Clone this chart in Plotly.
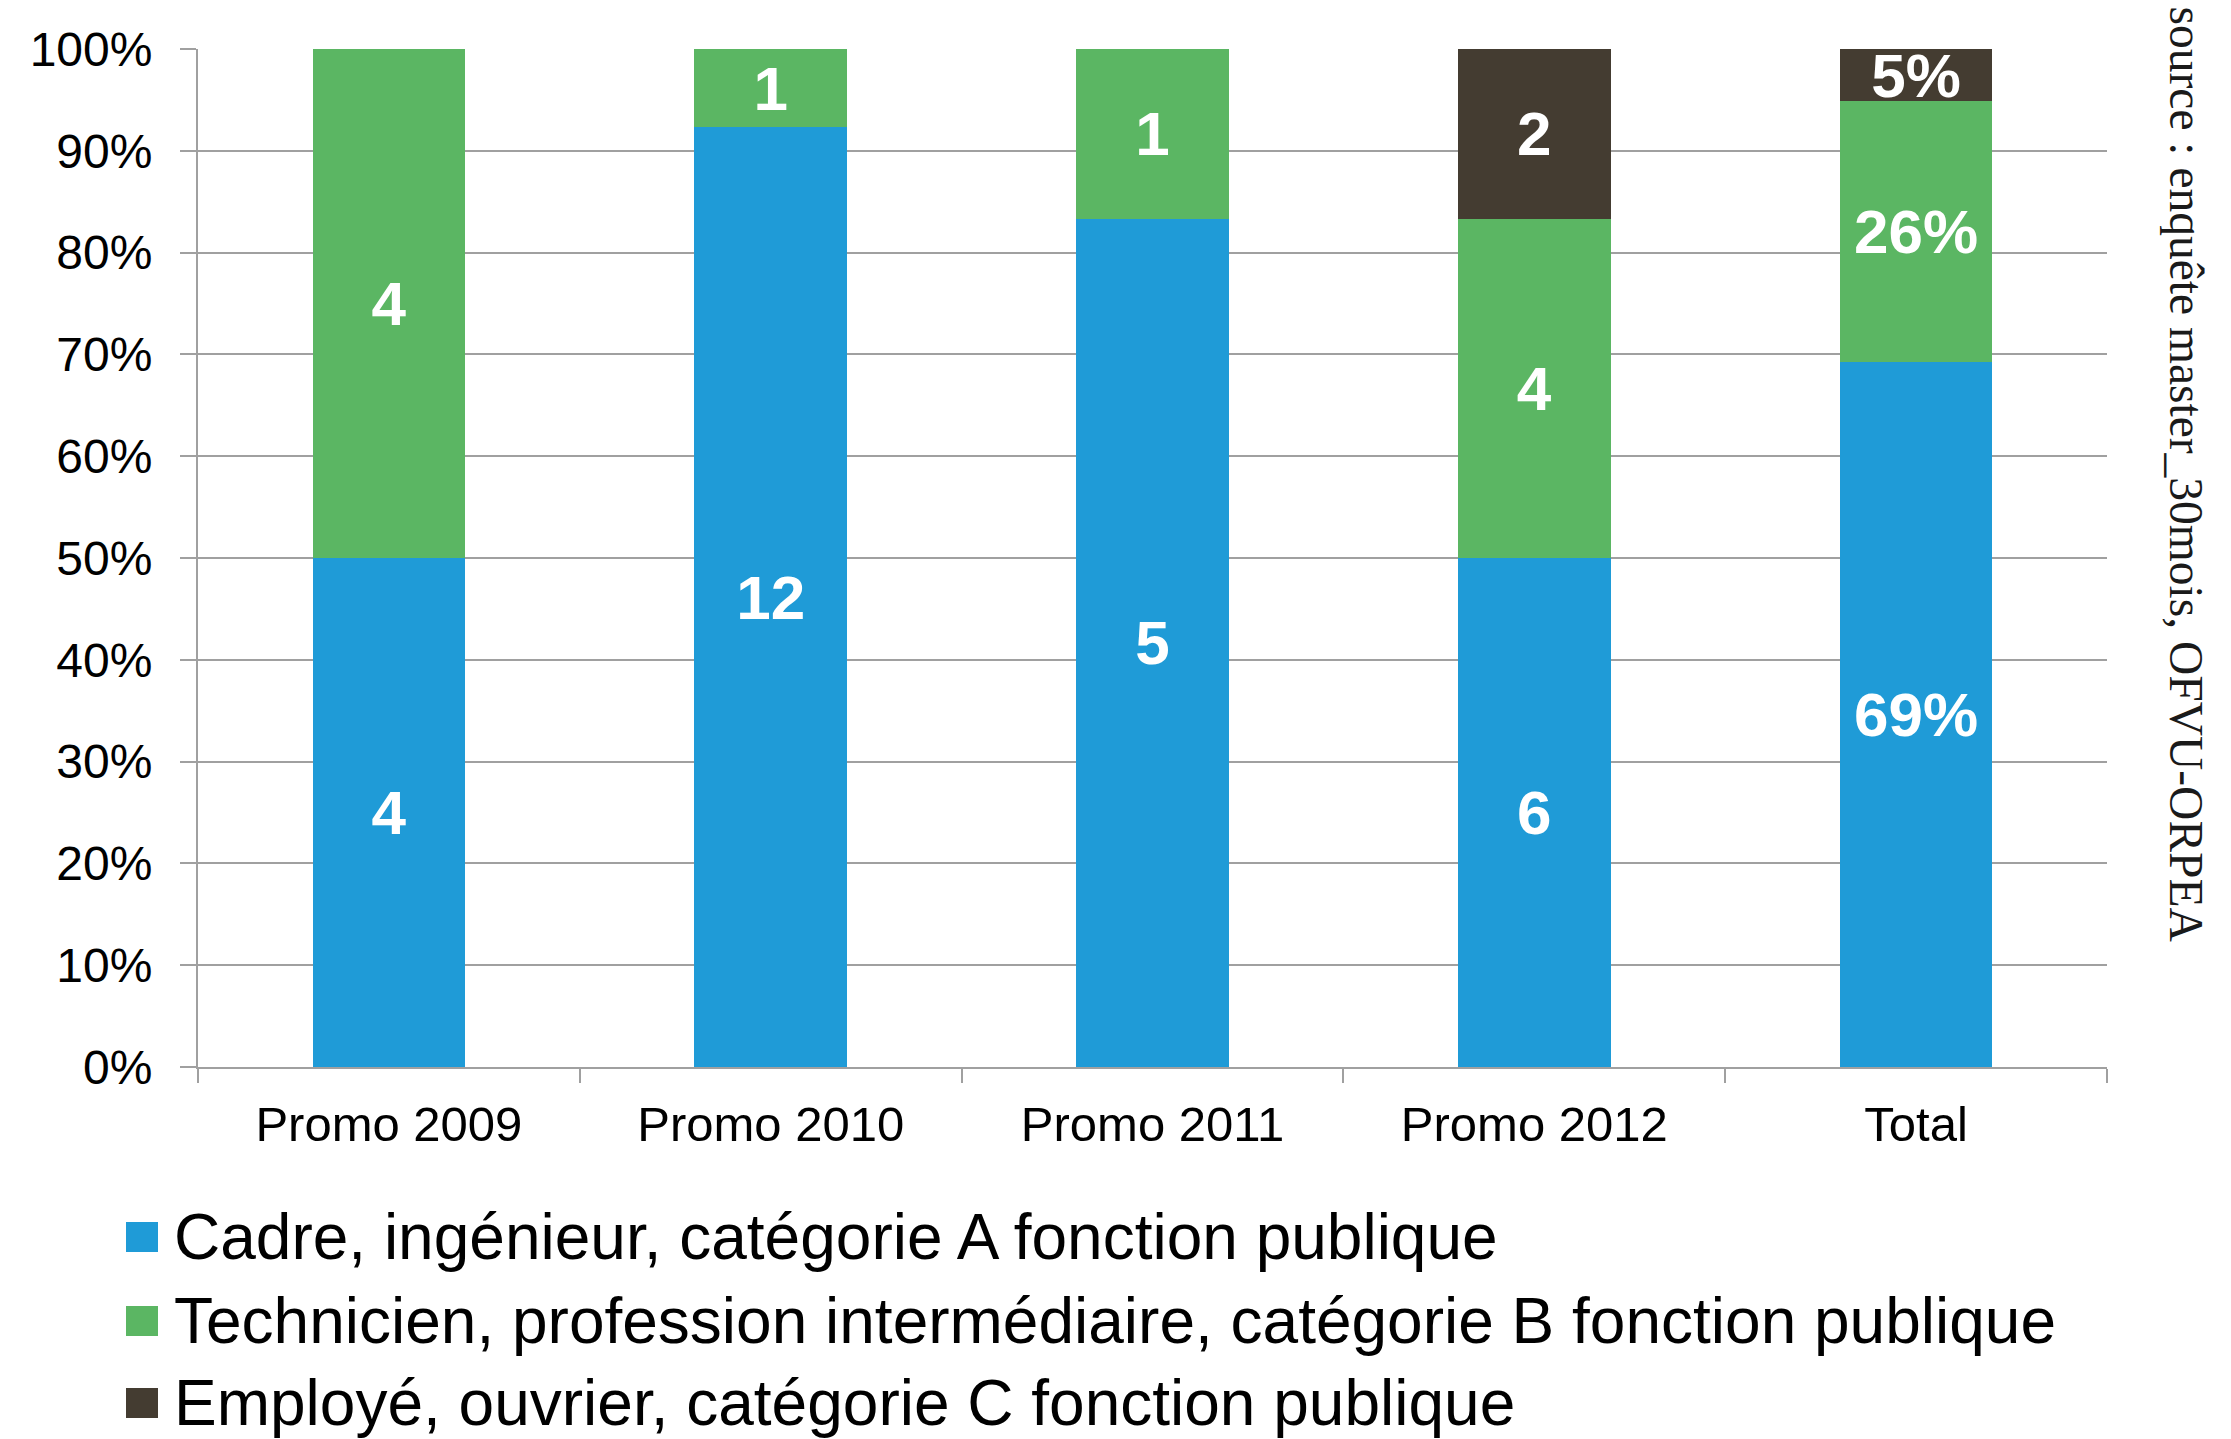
import plotly.graph_objects as go

categories = ["Promo 2009", "Promo 2010", "Promo 2011", "Promo 2012", "Total"]
promo_names = categories[:4]
series_names = [
    "Cadre, ingénieur, catégorie A fonction publique",
    "Technicien, profession intermédiaire, catégorie B fonction publique",
    "Employé, ouvrier, catégorie C fonction publique",
]
# counts per promo
cadre_counts = [4, 12, 5, 6]
tech_counts = [4, 1, 1, 4]
employe_counts = [0, 0, 0, 2]
colors = ["#1F9BD7", "#5BB663", "#443C31"]
y_ticks = [0, 10, 20, 30, 40, 50, 60, 70, 80, 90, 100]
source_text = "source : enquête master_30mois, OFVU-ORPEA"

W, H = 2231, 1439
L, R, T, B = 198, 2107, 49, 1067
PW, PH = R - L, B - T


def px(x):
    return (x - L) / PW


def py(y):
    return (B - y) / PH


all_counts = [cadre_counts, tech_counts, employe_counts]
totals_per_promo = [sum(c[i] for c in all_counts) for i in range(len(promo_names))]
grand = [sum(c) for c in all_counts]
grand_total = sum(grand)

fig = go.Figure()
for name, counts, g, color in zip(series_names, all_counts, grand, colors):
    pct = [100 * c / t for c, t in zip(counts, totals_per_promo)] + [100 * g / grand_total]
    labels = [str(c) if c > 0 else "" for c in counts] + [f"{round(100 * g / grand_total)}%"]
    fig.add_trace(go.Bar(
        x=categories, y=pct, name=name, marker=dict(color=color, line=dict(width=0)),
        text=labels, textposition="inside", insidetextanchor="middle",
        textangle=0, constraintext="none",
        textfont=dict(family="Liberation Sans, Arial", size=62, color="white", weight="bold"),
        showlegend=False, hoverinfo="skip",
    ))

fig.update_layout(
    barmode="stack", bargap=0.6,
    width=W, height=H, autosize=False,
    margin=dict(l=L, r=W - R, t=T, b=H - B, pad=0),
    plot_bgcolor="white", paper_bgcolor="white",
    font=dict(family="Liberation Sans, Arial", color="black"),
    showlegend=False,
)
fig.update_yaxes(
    range=[0, 100], tickvals=y_ticks, ticktext=[f"{v}%" for v in y_ticks],
    showgrid=True, gridcolor="#A0A0A0", gridwidth=2,
    showline=True, linecolor="#A0A0A0", linewidth=2,
    ticks="outside", ticklen=16, tickwidth=2, tickcolor="#A0A0A0",
    tickfont=dict(size=48, color="black"), ticklabelstandoff=18,
    zeroline=False, fixedrange=True,
)
fig.update_xaxes(
    showgrid=False, showline=True, linecolor="#A0A0A0", linewidth=2,
    ticks="outside", tickson="boundaries", ticklen=14, tickwidth=2, tickcolor="#A0A0A0",
    tickfont=dict(size=49, color="black"), ticklabelstandoff=13, fixedrange=True,
)

# custom legend
legend_rows = [1237, 1321, 1403]
for name, color, yc in zip(series_names, colors, legend_rows):
    fig.add_shape(type="rect", xref="paper", yref="paper",
                  x0=px(126), x1=px(158), y0=py(yc + 15), y1=py(yc - 15),
                  fillcolor=color, line=dict(width=0))
    fig.add_annotation(xref="paper", yref="paper", x=px(172), y=py(yc),
                       xanchor="left", yanchor="middle", text=name, showarrow=False,
                       font=dict(family="Liberation Sans, Arial", size=64, color="black"))

fig.add_annotation(xref="paper", yref="paper", x=px(2186), y=py(4),
                   xanchor="center", yanchor="top", text=source_text, showarrow=False,
                   textangle=90,
                   font=dict(family="Liberation Serif, Times New Roman", size=47.5, color="#1a1a1a"))

fig.write_html("out.html", config={"displayModeBar": False},
               post_script="document.body.style.margin='0';document.body.style.overflow='hidden';")
